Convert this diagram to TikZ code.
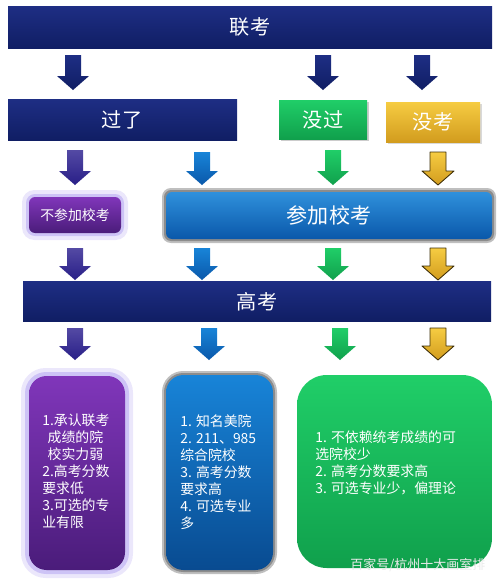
\documentclass[tikz,border=0pt]{standalone}
\usepackage{fontspec}
\newfontfamily\cjk{Noto Sans CJK SC}
\definecolor{navyT}{RGB}{30,46,132}
\definecolor{navyB}{RGB}{16,30,100}
\definecolor{purA}{RGB}{84,74,164}
\definecolor{purB}{RGB}{40,30,135}
\definecolor{bluA}{RGB}{24,132,216}
\definecolor{bluB}{RGB}{10,88,170}
\definecolor{grnA}{RGB}{32,206,104}
\definecolor{grnB}{RGB}{16,160,76}
\definecolor{gldA}{RGB}{246,204,66}
\definecolor{gldB}{RGB}{210,156,30}
\definecolor{violA}{RGB}{128,54,186}
\definecolor{violB}{RGB}{74,28,122}
\definecolor{glow}{RGB}{176,160,240}
\tikzset{
  navybar/.style={top color=navyT, bottom color=navyB},
  navyarr/.style={top color=navyT, bottom color=navyB},
  purarr/.style={top color=purA, bottom color=purB},
  bluarr/.style={top color=bluA, bottom color=bluB},
  grnarr/.style={top color=grnA, bottom color=grnB},
  gldarr/.style={top color=gldA, bottom color=gldB, draw=black!70!gldB, line width=0.5pt},
  title/.style={font={\cjk\fontsize{11.5}{13}\selectfont}, text=white, inner sep=0pt},
  bodytext/.style={font={\cjk\fontsize{7.9}{9.7}\selectfont}, text=white, align=left, inner sep=0pt, anchor=north west},
}
% block arrow pointing down: x, top y, height, style
\newcommand{\dnarrow}[4]{%
  \shade[#4] (#1-8,#2)--(#1+8,#2)--(#1+8,#2+#3-14)--(#1+16,#2+#3-14)--(#1,#2+#3)
    --(#1-16,#2+#3-14)--(#1-8,#2+#3-14)--cycle;}
\begin{document}
\begin{tikzpicture}[x=0.02cm, y=-0.02cm, line join=round]
\useasboundingbox (0,0) rectangle (500,579);
% top bar
\shade[navybar] (8,6) rectangle (492,48);
\node[title] (lk) at (250,27) {联考};
\dnarrow{73}{55}{35}{navyarr}
\dnarrow{323}{55}{35}{navyarr}
\dnarrow{422}{55}{35}{navyarr}
% second row
\shade[navybar] (8,99) rectangle (237,140);
\node[title] (gl) at (122,120) {过了};
\fill[black!20] (281,102) rectangle (369,141);
\shade[top color=grnA, bottom color=grnB] (279,100) rectangle (367,139);
\node[title] (mg) at (323,120) {没过};
\fill[black!15] (388,104) rectangle (482,144);
\shade[top color=gldA, bottom color=gldB] (386,102) rectangle (480,142);
\node[title] (mk) at (433,122) {没考};
\dnarrow{75}{150}{35}{purarr}
\dnarrow{202}{152}{33}{bluarr}
\dnarrow{333}{150}{35}{grnarr}
\dnarrow{438}{152}{33}{gldarr}
% school exam
\fill[glow, opacity=.25, rounded corners=7pt] (22,190) rectangle (128,240);
\fill[glow, opacity=.5, rounded corners=5pt] (26,194) rectangle (124,236);
\shade[top color=violA, bottom color=violB, rounded corners=3.5pt] (29,197) rectangle (121,233);
\node[title, font={\cjk\fontsize{7.9}{9}\selectfont}] (bcj) at (75,215) {不参加校考};
\fill[black!25, rounded corners=5pt] (162,188) rectangle (496,243);
\fill[black!45, rounded corners=4pt] (164,190) rectangle (494,241);
\shade[top color=bluA!90!white, bottom color=bluB, rounded corners=3.5pt] (166,192) rectangle (492,239);
\node[title, font={\cjk\fontsize{12}{14}\selectfont}] (cj) at (329,215) {参加校考};
\dnarrow{75}{248}{32}{purarr}
\dnarrow{202}{248}{32}{bluarr}
\dnarrow{333}{248}{32}{grnarr}
\dnarrow{438}{248}{32}{gldarr}
% gaokao bar
\shade[navybar] (23,281) rectangle (491,321);
\node[title] (gk) at (257,302) {高考};
\dnarrow{75}{328}{32}{purarr}
\dnarrow{209}{328}{32}{bluarr}
\dnarrow{340}{328}{32}{grnarr}
\dnarrow{438}{328}{32}{gldarr}
% result boxes
\fill[glow, opacity=.25, rounded corners=14pt] (21,368) rectangle (133,578);
\fill[glow, opacity=.5, rounded corners=12pt] (25,372) rectangle (129,574);
\shade[top color=violA, bottom color=violB, rounded corners=10pt] (29,376) rectangle (125,570);
\node[bodytext] (pt) at (42,413) {1.承认联考\\\hspace*{3pt}成绩的院\\\hspace*{3pt}校实力弱\\2.高考分数\\要求低\\3.可选的专\\业有限};
\fill[black!25, rounded corners=12pt] (162,371) rectangle (277,574);
\fill[black!45, rounded corners=11pt] (164,373) rectangle (275,572);
\shade[top color=bluA, bottom color=bluB!85!black, rounded corners=10pt] (166,375) rectangle (273,570);
\node[bodytext] (bt) at (180,414) {1. 知名美院\\2. 211、985\\综合院校\\3. 高考分数\\要求高\\4. 可选专业\\多};
\shade[top color=grnA, bottom color=grnB, rounded corners=17pt] (297,375) rectangle (492,568);
\node[bodytext] (gt) at (315,430) {1. 不依赖统考成绩的可\\选院校少\\2. 高考分数要求高\\3. 可选专业少，偏理论};
\node[title, font={\cjk\fontsize{7.4}{9}\selectfont}, text=white!92!black, anchor=west] (wm) at (350,565) {百家号/杭州十大画室排};
\end{tikzpicture}
\end{document}
